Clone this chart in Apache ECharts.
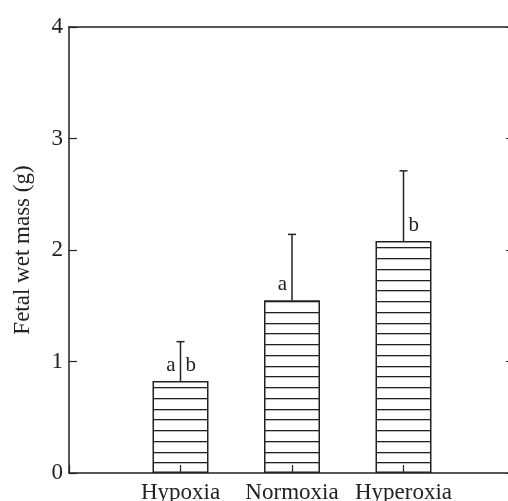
<!DOCTYPE html>
<html>
<head>
<meta charset="utf-8">
<script src="https://cdn.jsdelivr.net/npm/echarts@6/dist/echarts.min.js"></script>
<style>
  html, body { margin: 0; padding: 0; background: #fff; }
  #fetalMass { width: 508px; height: 501px; }
</style>
</head>
<body>
<div id="fetalMass"></div>
<script>
var groups = ['Hypoxia', 'Normoxia', 'Hyperoxia'];
var groupPos = [1, 2, 3];
var means = [0.825, 1.55, 2.08];
var errTop = [1.178, 2.14, 2.71];
var leftMarks = ['a', 'a', ''];
var rightMarks = ['b', '', 'b'];

var ink = '#222';
var serif = 'Liberation Serif, Times New Roman, serif';

// horizontal hatch for the bars
function hatch() {
  var c = document.createElement('canvas');
  c.width = 8;
  c.height = 43;
  var ctx = c.getContext('2d');
  ctx.fillStyle = '#fff';
  ctx.fillRect(0, 0, 8, 43);
  ctx.fillStyle = '#222';
  [0, 11, 22, 32].forEach(function (r) { ctx.fillRect(0, r, 8, 1.3); });
  return c;
}

var barData = groupPos.map(function (x, i) { return [x, means[i]]; });
var errData = groupPos.map(function (x, i) { return [x, means[i], errTop[i]]; });

var myChart = echarts.init(document.getElementById('fetalMass'));
var option = {
  animation: false,
  backgroundColor: '#fff',
  grid: { left: 69, right: -7, top: 27, bottom: 28, outerBoundsMode: 'none' },
  xAxis: [
    {
      type: 'value', min: 0, max: 4, interval: 1, z: 3,
      axisLine: { onZero: false, lineStyle: { color: ink, width: 1.5 } },
      axisTick: { inside: true, length: 8, lineStyle: { color: ink, width: 1.2 } },
      splitLine: { show: false },
      axisLabel: {
        margin: 8, color: ink, fontFamily: serif, fontSize: 23, lineHeight: 23,
        formatter: function (v) { var i = groupPos.indexOf(v); return i < 0 ? '' : groups[i]; }
      }
    },
    {
      type: 'value', min: 0, max: 4, position: 'top',
      axisLine: { show: true, onZero: false, lineStyle: { color: ink, width: 1.5 } },
      axisTick: { show: false }, axisLabel: { show: false }, splitLine: { show: false }
    }
  ],
  yAxis: [
    {
      type: 'value', min: 0, max: 4, interval: 1,
      name: 'Fetal wet mass (g)', nameLocation: 'middle', nameGap: 35,
      nameTextStyle: { color: ink, fontFamily: serif, fontSize: 23 },
      axisLine: { show: true, onZero: false, lineStyle: { color: ink, width: 1.5 } },
      axisTick: { show: true, inside: true, length: 8, lineStyle: { color: ink, width: 1.2 } },
      splitLine: { show: false },
      axisLabel: { margin: 6, color: ink, fontFamily: serif, fontSize: 23 }
    },
    {
      type: 'value', min: 0, max: 4, interval: 1, position: 'right',
      axisLine: { show: true, onZero: false, lineStyle: { color: ink, width: 1.5 } },
      axisTick: { show: true, inside: true, length: 9, lineStyle: { color: ink, width: 1.2 } },
      axisLabel: { show: false }, splitLine: { show: false }
    }
  ],
  series: [
    {
      type: 'bar',
      data: barData,
      barWidth: 56,
      itemStyle: {
        color: { image: hatch(), repeat: 'repeat' },
        borderColor: ink,
        borderWidth: 1.5
      }
    },
    {
      type: 'custom',
      data: errData,
      z: 4,
      renderItem: function (params, api) {
        var i = params.dataIndex;
        var base = api.coord([api.value(0), api.value(1)]);
        var tip = api.coord([api.value(0), api.value(2)]);
        var st = { stroke: ink, lineWidth: 1.5 };
        var font = '21px ' + serif;
        return {
          type: 'group',
          children: [
            { type: 'line', shape: { x1: base[0], y1: base[1], x2: tip[0], y2: tip[1] }, style: st },
            { type: 'line', shape: { x1: tip[0] - 4, y1: tip[1], x2: tip[0] + 4, y2: tip[1] }, style: st },
            { type: 'text', style: { text: leftMarks[i], x: base[0] - 5, y: base[1] - 5, font: font, fill: ink, align: 'right', verticalAlign: 'bottom' } },
            { type: 'text', style: { text: rightMarks[i], x: base[0] + 5, y: base[1] - 5, font: font, fill: ink, align: 'left', verticalAlign: 'bottom' } }
          ]
        };
      }
    }
  ]
};
myChart.setOption(option);
</script>
</body>
</html>
